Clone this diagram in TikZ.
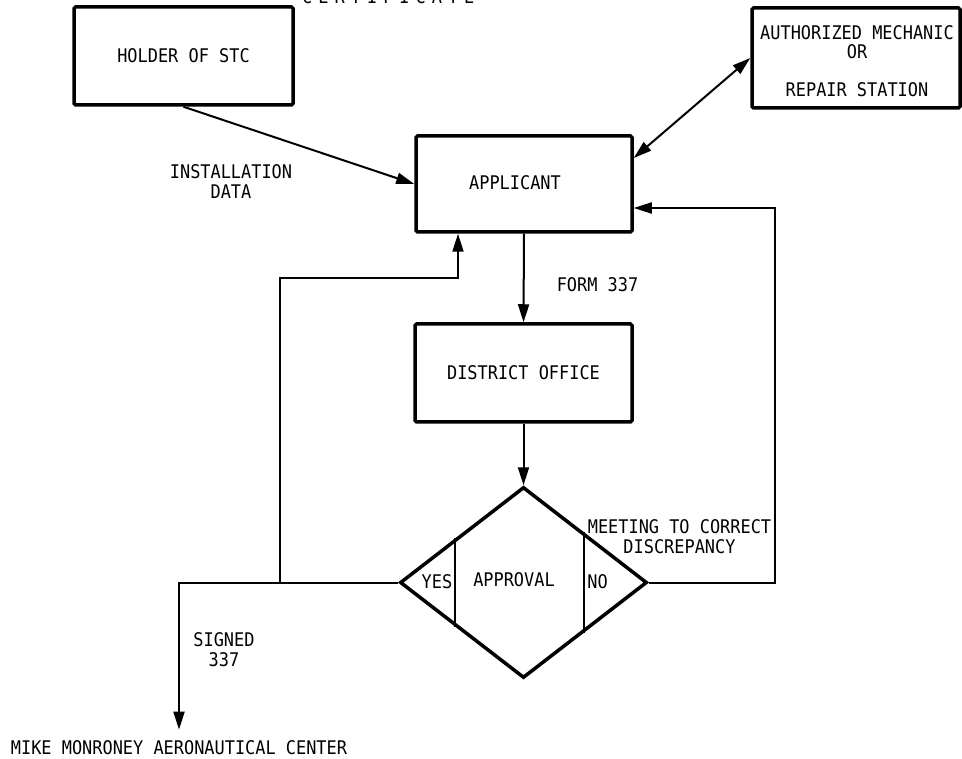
\documentclass[tikz,border=0pt]{standalone}
\usepackage{fontspec}
\newfontfamily\dmono[FakeStretch=0.9]{DejaVu Sans Mono}
\usetikzlibrary{arrows.meta,shapes.geometric,calc}
\tikzset{
  box/.style={draw,line width=3.5pt,rounded corners=1.5pt,inner sep=0pt},
  lbl/.style={inner sep=0pt,align=center},
  conn/.style={line width=2pt,-{Triangle[length=18pt,width=11pt]}},
  dconn/.style={line width=2pt,{Triangle[length=18pt,width=11pt]}-{Triangle[length=18pt,width=11pt]}},
  plain/.style={line width=2pt},
}
\begin{document}
\begin{tikzpicture}[x=1pt,y=-1pt,font=\dmono\fontsize{18.8}{20}\selectfont]
\useasboundingbox (0,0) rectangle (962,759);
% title fragment (cut off at the top)
\node[inner sep=0pt,anchor=base west,font=\dmono\addfontfeature{LetterSpace=32}\fontsize{18.8}{20}\selectfont] (title) at (302,3.5) {CERTIFICATE};
% boxes
\node[box,minimum width=219pt,minimum height=98pt] (holder) at (183.5,56) {HOLDER OF STC};
\node[box,minimum width=208pt,minimum height=100pt] (auth) at (856,58) {};
\node[lbl,font=\dmono\fontsize{18.8}{19}\selectfont] (authtext) at (857,61.5) {AUTHORIZED MECHANIC\\OR\\[19pt]REPAIR STATION};
\node[box,minimum width=216pt,minimum height=96pt] (app) at (524,184) {};
\node[lbl] (apptext) at (515,183) {APPLICANT};
\node[box,minimum width=217pt,minimum height=98pt] (dist) at (523.5,373) {DISTRICT OFFICE};
% decision diamond
\node[draw,diamond,line width=3.5pt,inner sep=0pt,minimum width=247pt,minimum height=191pt] (dia) at (523.5,582.5) {};
\draw[plain] ($(dia.west)!0.453!(dia.north)$) -- ($(dia.west)!0.453!(dia.south)$);
\draw[plain] ($(dia.east)!0.518!(dia.north)$) -- ($(dia.east)!0.518!(dia.south)$);
\node[lbl] (yes) at (437,582) {YES};
\node[lbl] (approval) at (514,580) {APPROVAL};
\node[lbl] (no) at (597.5,582) {NO};
% bottom destination
\node[lbl] (mike) at (179,748) {MIKE MONRONEY AERONAUTICAL CENTER};
% junctions
\coordinate (j1) at (280,582.5);
\coordinate (j2) at (458,278);
\coordinate (j4) at (775,208);
% connectors
\draw[conn] (holder.south) -- (app.west);
\draw[dconn] (auth.west) -- ([yshift=26pt]app.east);
\draw[conn] (app.south) -- (dist.north);
\draw[conn] (dist.south) -- (dia.north);
\draw[conn] (dia.west) -- (j1) |- (j2) -- (app.south -| j2);
\draw[conn] (j1) -| ([yshift=11pt]mike.north);
\draw[conn] (dia.east) -| (j4) -- (app.east |- j4);
% connector labels
\node[lbl] (instdata) at (231,182) {INSTALLATION\\DATA};
\node[lbl] (form) at (597.5,285) {FORM 337};
\node[lbl] (meeting) at (679.5,537) {MEETING TO CORRECT\\DISCREPANCY};
\node[lbl] (signed) at (224,650) {SIGNED\\337};
\end{tikzpicture}
\end{document}
